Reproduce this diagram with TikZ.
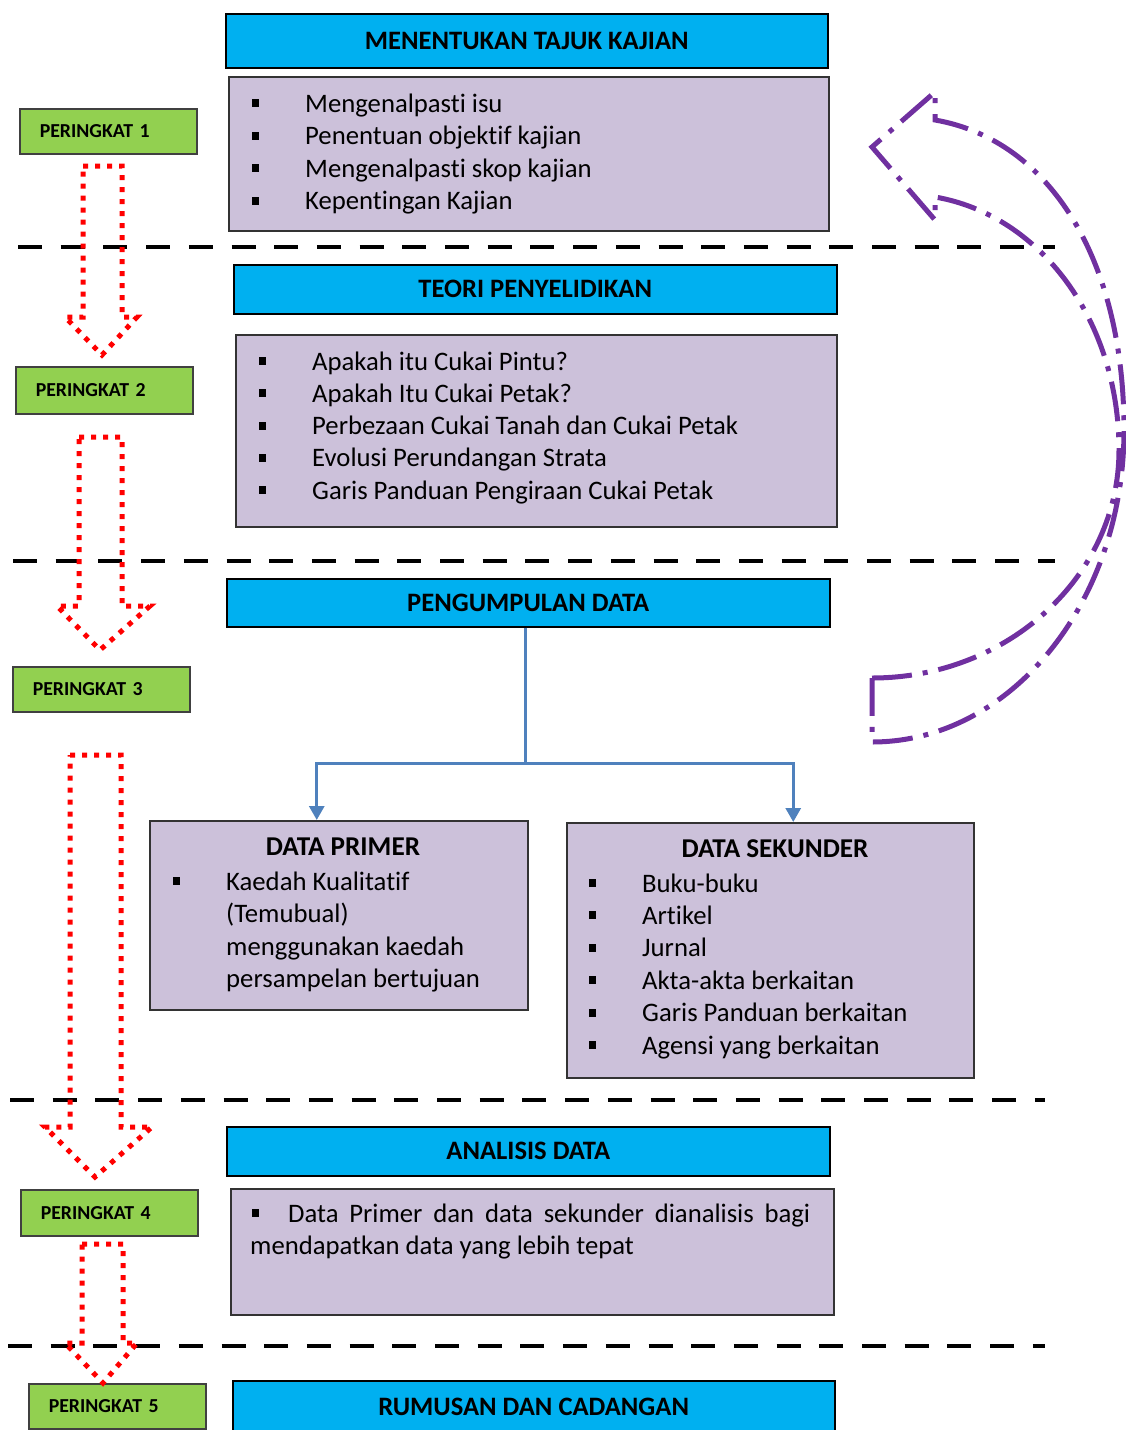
\documentclass[tikz,border=0pt]{standalone}
\usepackage{fontspec}
\setmainfont{Carlito}[Ligatures=CommonOff]
\usetikzlibrary{arrows.meta}

\definecolor{headblue}{HTML}{00B0F0}
\definecolor{lav}{HTML}{CCC1DA}
\definecolor{stagegreen}{HTML}{92D050}
\definecolor{connblue}{HTML}{4F81BD}
\definecolor{arcpurple}{HTML}{7030A0}

\newcommand\sqbul{\rule[5pt]{7pt}{8pt}}
\newcommand\itm[1]{\makebox[53pt][l]{\sqbul}#1}

\begin{document}
\begin{tikzpicture}[x=1pt,y=-1pt,
    header/.style={draw=black,line width=1.5pt,fill=headblue,anchor=north west,
        inner sep=0pt,font=\fontsize{26.6}{30}\selectfont\bfseries},
    listbox/.style={draw=black!80,line width=1.5pt,fill=lav,anchor=north west,inner sep=0pt},
    stage/.style={draw=black!75,line width=1.5pt,fill=stagegreen,anchor=north west,
        inner xsep=20pt,inner ysep=0pt,text width=137pt,align=left,
        font=\fontsize{19.8}{22}\selectfont\bfseries},
    item/.style={anchor=base west,inner sep=0pt,font=\fontsize{26.7}{30}\selectfont},
    subtitle/.style={anchor=base,inner sep=0pt,font=\fontsize{27.2}{30}\selectfont\bfseries},
    sepline/.style={draw=black,line width=4pt,dash pattern=on 24pt off 18.7pt},
    redarrow/.style={draw=red,line width=5pt,dash pattern=on 5pt off 7pt},
    backarc/.style={draw=arcpurple,line width=5pt,dash pattern=on 40pt off 11pt on 5pt off 11pt},
    conn/.style={draw=connblue,line width=3pt}]
    \useasboundingbox (0,0) rectangle (1126,1430);

    % separators
    \foreach \y/\xa/\xb in {247/18/1055, 561/13/1055, 1100/10/1045, 1346/8/1045}
        \draw[sepline] (\xa,\y) -- (\xb,\y);

    % stage headers
    \node[header,minimum width=602,minimum height=54] (h1) at (225,13) {MENENTUKAN TAJUK KAJIAN};
    \node[header,minimum width=603,minimum height=49] (h2) at (233,264) {TEORI PENYELIDIKAN};
    \node[header,minimum width=603,minimum height=48] (h3) at (226,578) {PENGUMPULAN DATA};
    \node[header,minimum width=603,minimum height=49] (h4) at (226,1126) {ANALISIS DATA};
    \node[header,minimum width=602,minimum height=52] (h5) at (232,1380) {RUMUSAN DAN CADANGAN};

    % content boxes
    \node[listbox,minimum width=600,minimum height=154] (b1) at (228,76) {};
    \node[listbox,minimum width=601,minimum height=192] (b2) at (235,334) {};
    \node[listbox,minimum width=378,minimum height=189] (prim) at (149,820) {};
    \node[listbox,minimum width=407,minimum height=255] (sek) at (566,822) {};
    \node[listbox,minimum width=603,minimum height=126] (ana) at (230,1188) {};

    \foreach \txt [count=\i] in {Mengenalpasti isu, Penentuan objektif kajian,
            Mengenalpasti skop kajian, Kepentingan Kajian}
        \node[item] (b1-\i) at (252,{112+32.5*(\i-1)}) {\itm{\txt}};
    \foreach \txt [count=\i] in {Apakah itu Cukai Pintu?, Apakah Itu Cukai Petak?,
            Perbezaan Cukai Tanah dan Cukai Petak, Evolusi Perundangan Strata,
            Garis Panduan Pengiraan Cukai Petak}
        \node[item] (b2-\i) at (259,{370+32.3*(\i-1)}) {\itm{\txt}};

    \node[subtitle] (prim-t) at (343,855) {DATA PRIMER};
    \node[item] (prim-1) at (173,890) {\itm{Kaedah Kualitatif}};
    \foreach \txt [count=\i from 2] in {(Temubual), menggunakan kaedah, persampelan bertujuan}
        \node[item] (prim-\i) at (226,{890+32.5*(\i-1)}) {\txt};

    \node[subtitle] (sek-t) at (775,857) {DATA SEKUNDER};
    \foreach \txt [count=\i] in {Buku-buku, Artikel, Jurnal, Akta-akta berkaitan,
            Garis Panduan berkaitan, Agensi yang berkaitan}
        \node[item] (sek-\i) at (589,{892+32.4*(\i-1)}) {\itm{\txt}};

    \node[item] (ana-1) at (252,1222)
        {\makebox[36pt][l]{\sqbul}\makebox[522pt][s]{Data Primer dan data sekunder dianalisis bagi}};
    \node[item] (ana-2) at (250,1254) {mendapatkan data yang lebih tepat};

    % stage labels
    \node[stage,minimum height=45] (p1) at (19,108) {PERINGKAT 1};
    \node[stage,minimum height=47] (p2) at (15,366) {PERINGKAT 2};
    \node[stage,minimum height=45] (p3) at (12,666) {PERINGKAT 3};
    \node[stage,minimum height=46] (p4) at (20,1189) {PERINGKAT 4};
    \node[stage,minimum height=45] (p5) at (28,1383) {PERINGKAT 5};

    % down arrows between stages
    \foreach \l/\r/\t/\b/\wl/\wr/\tx/\ty in {83/122/166/317/65/137/102/355,
            79/122/437/606/57/150/100/650, 70/121/755/1127/45/152/95/1177,
            82/123/1244/1343/65/137/103/1383}
        \draw[redarrow] (\l,\t) -- (\r,\t) -- (\r,\b) -- (\wr,\b) -- (\tx,\ty)
            -- (\wl,\b) -- (\l,\b) -- cycle;

    % data split
    \coordinate (fork) at (525,763);
    \draw[conn] (fork |- h3.south) -- (fork);
    \draw[conn,-{Triangle[width=15pt,length=14pt]}] (fork) -| ([xshift=-22pt]prim.north);
    \draw[conn,-{Triangle[width=15pt,length=14pt]}] (fork) -| ([xshift=23pt]sek.north);

    % curved return arrow
    \draw[backarc] (872,678) .. controls (1008,678) and (1119,576) .. (1119,450)
        .. controls (1119,320) and (1040,215) .. (935,197)
        -- (935,220) -- (872,147) -- (935,92) -- (935,120)
        .. controls (1050,140) and (1124,260) .. (1124,430)
        .. controls (1124,602) and (1011,742) .. (872,742) -- cycle;
\end{tikzpicture}
\end{document}
